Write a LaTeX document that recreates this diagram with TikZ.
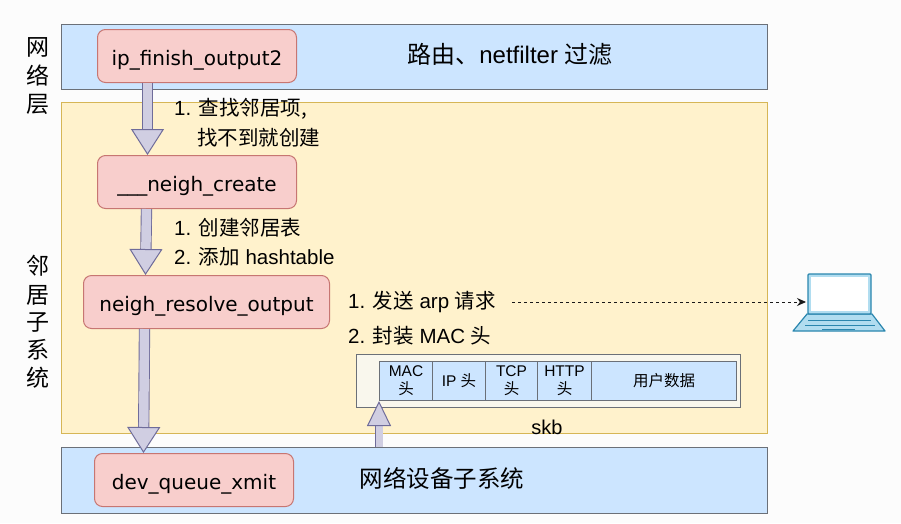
\documentclass[tikz,border=0pt]{standalone}
\usepackage{fontspec}
\setmainfont{Liberation Sans}
\newfontfamily\cjk{Noto Sans CJK SC}
\newfontfamily\nodefont{DejaVu Sans}
\usetikzlibrary{arrows.meta,positioning}
\definecolor{bluefill}{HTML}{CCE5FF}
\definecolor{greyline}{HTML}{6B7078}
\definecolor{yelfill}{HTML}{FFF2CC}
\definecolor{yelline}{HTML}{D6B656}
\definecolor{pinkfill}{HTML}{F8CECC}
\definecolor{pinkline}{HTML}{C77672}
\definecolor{arrowfill}{HTML}{D0CEE2}
\definecolor{arrowline}{HTML}{6F6C9A}
\definecolor{lapline}{HTML}{2A86AE}
\definecolor{lapfill}{HTML}{B1DDF0}
\definecolor{skbfill}{HTML}{F9F7ED}
\newcommand{\zh}[1]{{\cjk #1}}
\tikzset{
  x=1pt,y=-1pt,
  layerbox/.style={draw=greyline,fill=bluefill,line width=1pt,anchor=north west,inner sep=0pt},
  yelbox/.style={draw=yelline,fill=yelfill,line width=1pt,anchor=north west,inner sep=0pt},
  func/.style={draw=pinkline,fill=pinkfill,line width=1pt,rounded corners=8pt,anchor=north west,
    inner sep=0pt,text height=18pt,text depth=0pt,font=\fontsize{20}{22}\selectfont\nodefont},
  fat/.style={line width=0.9pt,draw=arrowline,double=arrowfill,double distance=#1,
    -{Triangle[width=33pt,length=26pt,fill=arrowfill,color=arrowline,line width=1pt]}},
  fatup/.style={line width=0.9pt,draw=arrowline,double=arrowfill,double distance=7pt,
    -{Triangle[width=24pt,length=25pt,fill=arrowfill,color=arrowline,line width=1pt]}},
  lbl/.style={anchor=west,inner sep=0pt,font=\fontsize{20.5}{24}\selectfont},
  side/.style={inner sep=0pt,font=\fontsize{23}{25}\selectfont\cjk},
  cell/.style={draw=greyline,fill=bluefill,line width=1pt,anchor=north west,inner sep=0pt,
    align=center,font=\fontsize{15.5}{18}\selectfont,minimum height=39pt},
}
\begin{document}
\begin{tikzpicture}
\useasboundingbox (0,0) rectangle (901,523);
\fill[white!99!black] (0,0) rectangle (901,523);
% layers
\node[layerbox,minimum width=706pt,minimum height=65pt] (net) at (61,24) {};
\node[yelbox,minimum width=706pt,minimum height=331pt] (nbr) at (61,102) {};
\node[layerbox,minimum width=706pt,minimum height=66pt] (dev) at (61,447) {};
% side labels
\node[side] (s1) at (38,47) {网};
\node[side] (s2) at (38,76) {络};
\node[side] (s3) at (38,104) {层};
\node[side] (s4) at (38,266) {邻};
\node[side] (s5) at (38,295) {居};
\node[side] (s6) at (38,322) {子};
\node[side] (s7) at (38,350) {系};
\node[side] (s8) at (38,378) {统};
% functions
\node[func,minimum width=199pt,minimum height=53pt] (ip) at (97,29) {ip\_finish\_output2};
\node[func,minimum width=199pt,minimum height=53pt] (create) at (97,155) {\_\_\_neigh\_create};
\node[func,minimum width=246pt,minimum height=53pt] (resolve) at (83,275) {neigh\_resolve\_output};
\node[func,minimum width=199pt,minimum height=53pt] (xmit) at (94,453) {dev\_queue\_xmit};
% big arrows
\draw[fat=9.5pt] ([xshift=-49.5pt]ip.south) -- ([xshift=-49.5pt]create.north);
\draw[fat=9.5pt] ([xshift=-50.5pt]create.south) -- ([xshift=-61pt]resolve.north);
\draw[fat=9.5pt] ([xshift=-62pt]resolve.south) -- ([xshift=-50.5pt]xmit.north);
% texts
\node[inner sep=0pt,font=\fontsize{24}{28}\selectfont] (t1) at (510,54) {\zh{路由、}netfilter \zh{过滤}};
\node[inner sep=0pt,font=\fontsize{23.5}{26}\selectfont\cjk] (t2) at (442,478) {网络设备子系统};
\node[lbl] (a1) at (174,109) {1. \zh{查找邻居项,}};
\node[lbl] (a2) at (197,138) {\zh{找不到就创建}};
\node[lbl] (b1) at (174,228) {1. \zh{创建邻居表}};
\node[lbl] (b2) at (174,257) {2. \zh{添加} hashtable};
\node[lbl] (c1) at (348,302) {1. \zh{发送} arp \zh{请求}};
\node[lbl] (c2) at (348,336) {2. \zh{封装} MAC \zh{头}};
\node[inner sep=0pt,font=\fontsize{20}{24}\selectfont] (skbl) at (547,427) {skb};
% skb
\node[draw=greyline,fill=skbfill,line width=1pt,anchor=north west,inner sep=0pt,minimum width=384pt,minimum height=53pt] (skb) at (356,354) {};
\node[cell,minimum width=53pt] (c-mac) at (379,361) {MAC\\\zh{头}};
\node[cell,minimum width=53pt] (c-ip) at (432,361) {IP \zh{头}};
\node[cell,minimum width=52pt] (c-tcp) at (485,361) {TCP\\\zh{头}};
\node[cell,minimum width=54pt] (c-http) at (537,361) {HTTP\\\zh{头}};
\node[cell,minimum width=145pt,font=\fontsize{15.5}{18}\selectfont\cjk] (c-data) at (591,361) {用户数据};
% up arrow
\draw[fatup] ([xshift=-35.5pt]dev.north) -- (c-mac.south west);
% laptop
\coordinate (lapin) at (806,302);
\draw[line width=1.2pt,draw=lapline,fill=lapfill,line join=round] (807,314) -- (872,314) -- (885,331) -- (793,331) -- cycle;
\draw[line width=1.2pt,draw=lapline,fill=lapfill,rounded corners=1pt] (808,274) rectangle (871,314);
\fill[white] (811,277) rectangle (868,311);
\draw[lapline,line width=1pt] (808,320.5) -- (871,320.5) (805,325) -- (875,325) (822,329) -- (855,329);
% dashed request
\draw[dashed,line width=0.9pt,-{Stealth[length=9pt,width=8pt]},black!90] (c1.east) ++(16,0) -- (lapin);
\end{tikzpicture}
\end{document}
